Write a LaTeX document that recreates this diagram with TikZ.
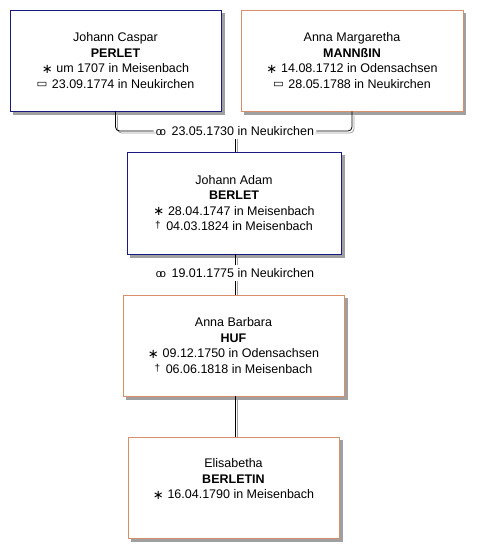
\documentclass[tikz,border=0pt]{standalone}
\usepackage{fontspec}
\setmainfont{Liberation Sans}
\newfontfamily\djv{DejaVu Sans}
\usetikzlibrary{calc}
\definecolor{bbl}{HTML}{1A1A80}
\definecolor{bor}{HTML}{D8906C}
\definecolor{shd}{HTML}{A0A0A0}
\newcommand{\bsym}{\raisebox{-0.1ex}{\djv\fontsize{13}{13}\selectfont ∗}\hspace{0.3em}}
\newcommand{\dsym}{\raisebox{0.3ex}{\fontsize{10}{10}\selectfont †}\hspace{0.45em}}
\newcommand{\msym}{{\fontsize{11}{11}\selectfont o\kern-0.2em o}\hspace{0.45em}}
\newcommand{\gsym}{\raisebox{0.1ex}{\djv\fontsize{11.5}{11.5}\selectfont ▭}\hspace{0.35em}}
\tikzset{
  pbox/.style={draw=#1, line width=0.9pt, fill=white, inner sep=0pt,
    font=\fontsize{12.5}{15.5}\selectfont, align=center, text=black},
  txt/.style={font=\fontsize{12.5}{15.5}\selectfont, align=center, inner sep=0pt},
  mlabel/.style={font=\fontsize{12.5}{15.5}\selectfont, fill=white, inner xsep=2pt, inner ysep=3pt},
  conn/.style={draw=black, line width=0.8pt},
  connshd/.style={draw=shd, line width=0.8pt}
}
\begin{document}
\begin{tikzpicture}[x=1pt,y=-1pt]
\fill[white] (0,0) rectangle (482,558);
\useasboundingbox (0,0) rectangle (482,558);
% box shadows
\fill[shd] (13,13) rectangle (225,115);
\fill[shd] (244,13) rectangle (466,115);
\fill[shd] (130,155) rectangle (345,258);
\fill[shd] (126,298) rectangle (348,400);
\fill[shd] (131,440) rectangle (343,542);
% persons
\node[pbox=bbl, minimum width=211pt, minimum height=101pt] (jc) at (115.5,60.5)
  {Johann Caspar\\ \textbf{PERLET}\\ \bsym um 1707 in Meisenbach\\ \gsym 23.09.1774 in Neukirchen};
\node[pbox=bor, minimum width=222pt, minimum height=101pt] (am) at (352,60.5)
  {Anna Margaretha\\ \textbf{MANNßIN}\\ \bsym 14.08.1712 in Odensachsen\\ \gsym 28.05.1788 in Neukirchen};
\node[pbox=bbl, minimum width=214pt, minimum height=102pt] (ja) at (234,203)
  {Johann Adam\\ \textbf{BERLET}\\ \bsym 28.04.1747 in Meisenbach\\ \dsym 04.03.1824 in Meisenbach};
\node[pbox=bor, minimum width=221pt, minimum height=101pt] (ab) at (233.5,345.5)
  {Anna Barbara\\ \textbf{HUF}\\ \bsym 09.12.1750 in Odensachsen\\ \dsym 06.06.1818 in Meisenbach};
\node[pbox=bor, minimum width=211pt, minimum height=101pt] (el) at (233.5,487.5) {};
\node[txt] (elt) at (233.5,479)
  {Elisabetha\\ \textbf{BERLETIN}\\ \bsym 16.04.1790 in Meisenbach};
% marriages
\node[mlabel] (m1) at (235,131) {\msym 23.05.1730 in Neukirchen};
\node[mlabel] (m2) at (235,273) {\msym 19.01.1775 in Neukirchen};
% connector shadows
\draw[connshd, rounded corners=4pt] ($(jc.south)+(2,4)$) |- ($(m1.west)+(2,2)$);
\draw[connshd, rounded corners=4pt] ($(am.south)+(2,4)$) |- ($(m1.east)+(-1,2)$);
\draw[connshd] ($(m1.south)+(2,0)$) -- ($(m1.south |- ja.north)+(2,0)$);
\draw[connshd] ($(m2.north |- ja.south)+(2,4)$) -- ($(m2.north)+(2,0)$);
\draw[connshd] ($(m2.south)+(2,0)$) -- ($(m2.south |- ab.north)+(2,0)$);
\draw[connshd] ($(m2.south |- ab.south)+(2,4)$) -- ($(m2.south |- el.north)+(2,0)$);
% connectors
\draw[conn, rounded corners=4pt] (jc.south) |- (m1.west);
\draw[conn, rounded corners=4pt] (am.south) |- (m1.east);
\draw[conn] (m1.south) -- (m1.south |- ja.north);
\draw[conn] (m2.north |- ja.south) -- (m2.north);
\draw[conn] (m2.south) -- (m2.south |- ab.north);
\draw[conn] (m2.south |- ab.south) -- (m2.south |- el.north);
\end{tikzpicture}
\end{document}
